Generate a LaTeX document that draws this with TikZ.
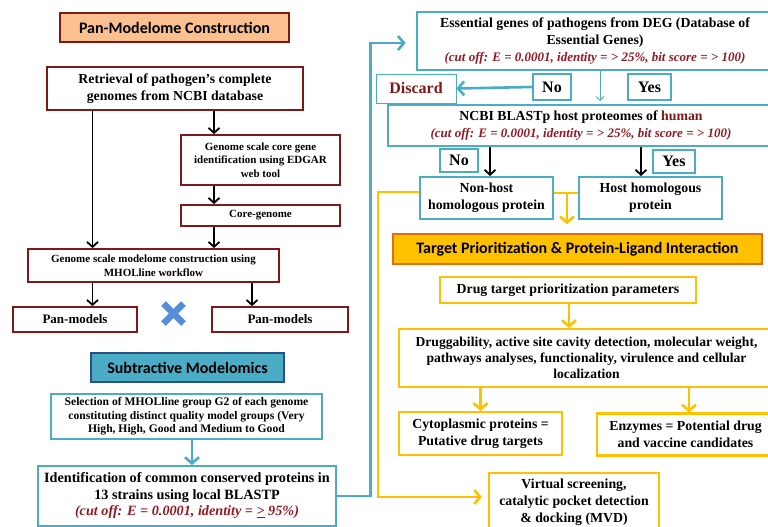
\documentclass[tikz,border=0pt]{standalone}
\usepackage{fontspec}
\setmainfont{Liberation Serif}
\newfontfamily\headfont{Carlito}
\usepackage{tikz}
\usetikzlibrary{shapes, arrows.meta, positioning}

\definecolor{darkred}{RGB}{128,24,24}
\definecolor{cutred}{RGB}{150,24,36}
\definecolor{aqua}{RGB}{75,172,198}
\definecolor{navyline}{RGB}{40,82,128}
\definecolor{peach}{RGB}{250,192,144}
\definecolor{gold}{RGB}{255,192,0}
\definecolor{goldedge}{RGB}{228,108,10}
\definecolor{crossblue}{RGB}{88,142,215}

\newcommand{\cutoff}[1]{{\color{cutred}\itshape #1}}

\begin{document}
\begin{tikzpicture}[x=1pt, y=-1pt,
    header/.style={rectangle, line width=1.6pt, align=center, inner sep=0pt, font=\headfont\bfseries\fontsize{16}{19}\selectfont},
    redbox/.style={rectangle, draw=darkred, line width=1.8pt, fill=white, align=center, inner sep=0pt},
    bluebox/.style={rectangle, draw=aqua, line width=2pt, fill=white, align=center, inner sep=0pt},
    goldbox/.style={rectangle, draw=gold, line width=2.2pt, fill=white, align=center, inner sep=0pt},
    tagbox/.style={rectangle, draw=aqua, line width=2.4pt, fill=white, inner sep=0pt, font=\bfseries\fontsize{16}{18}\selectfont},
    bigtext/.style={font=\bfseries\fontsize{13.8}{16.8}\selectfont},
    smalltext/.style={font=\bfseries\fontsize{11}{13.5}\selectfont},
    blackline/.style={draw, line width=1.8pt, -{Straight Barb[length=5pt, width=11pt]}},
    blueline/.style={draw, aqua, line width=2.6pt, -{Straight Barb[length=6pt, width=14pt]}},
    thinblue/.style={draw, aqua, line width=1pt, -{Straight Barb[length=4pt, width=8pt]}},
    goldline/.style={draw, gold, line width=2.6pt, -{Straight Barb[length=6pt, width=14pt]}},
    goldplain/.style={draw, gold, line width=2.6pt}
]
\useasboundingbox (0,0) rectangle (768,527);

% ─── Pan-Modelome Construction (left, top) ───────────────────────────
\node[header, draw=darkred, fill=peach, minimum width=229pt, minimum height=29pt] (panhead) at (174.5,27.5) {Pan-Modelome Construction};

\node[redbox, bigtext, minimum width=256pt, minimum height=43pt] (retrieval) at (175,88.5) {Retrieval of pathogen's complete\\genomes from NCBI database};
\node[redbox, smalltext, minimum width=159pt, minimum height=50pt] (coregene) at (260.5,160) {Genome  scale core gene\\identification  using EDGAR\\web  tool};
\node[redbox, smalltext, minimum width=159pt, minimum height=21pt] (coregenome) at (260.5,215.5) {Core-genome};
\node[redbox, smalltext, minimum width=251pt, minimum height=33pt] (modelome) at (153.5,265.5) {Genome scale modelome construction using\\MHOLline workflow};
\node[redbox, font=\bfseries\fontsize{13}{16}\selectfont, minimum width=124pt, minimum height=25pt] (panmodA) at (75,319.5) {Pan-models};
\node[redbox, font=\bfseries\fontsize{13}{16}\selectfont, minimum width=136pt, minimum height=25pt] (panmodB) at (280,319.5) {Pan-models};

\coordinate (trunkA) at (92.5,0);
\coordinate (trunkB) at (214,0);
\coordinate (trunkC) at (252,0);

\draw[blackline] (trunkB |- retrieval.south) -- (trunkB |- coregene.north);
\draw[blackline] (trunkB |- coregene.south) -- (trunkB |- coregenome.north);
\draw[blackline] (trunkB |- coregenome.south) -- (trunkB |- modelome.north);
\draw[blackline] (trunkA |- retrieval.south) -- (trunkA |- modelome.north);
\draw[blackline] (trunkA |- modelome.south) -- (trunkA |- panmodA.north);
\draw[blackline] (trunkC |- modelome.south) -- (trunkC |- panmodB.north);

% blue cross between the two pan-models
\coordinate (cross) at (173.5,313.5);
\draw[crossblue, line width=6.5pt] ([shift={(-10,-10)}]cross) -- ([shift={(10,10)}]cross);
\draw[crossblue, line width=6.5pt] ([shift={(-10,10)}]cross) -- ([shift={(10,-10)}]cross);

% ─── Subtractive Modelomics (left, bottom) ───────────────────────────
\node[header, draw=navyline, fill=aqua, minimum width=193pt, minimum height=29pt] (subhead) at (187.5,367.5) {Subtractive Modelomics};

\node[bluebox, font=\bfseries\fontsize{11.6}{13.6}\selectfont, minimum width=271pt, minimum height=45pt] (selection) at (186.5,416.5) {Selection of MHOLline  group G2 of each  genome\\constituting distinct quality model  groups (Very\\High, High, Good  and Medium  to Good};
\node[bluebox, font=\bfseries\fontsize{14.2}{16.5}\selectfont, minimum width=298pt, minimum height=60pt] (ident) at (187,496) {Identification  of common  conserved proteins in\\13 strains using local  BLASTP\\\cutoff{(cut off: E = 0.0001, identity = \underline{>} 95\%)}};

\coordinate (selarrow) at (192,0);
\draw[blueline] (selarrow |- selection.south) -- (selarrow |- ident.north);

% ─── DEG and host BLAST (right, top) ─────────────────────────────────
\node[bluebox, bigtext, line width=2.6pt, minimum width=356pt, minimum height=58pt] (essential) at (595,41) {Essential genes of pathogens from  DEG (Database of\\Essential Genes)\\\cutoff{\fontsize{13}{16.8}\selectfont(cut off: E = 0.0001, identity = > 25\%, bit score = > 100)}};

\node[rectangle, draw=aqua, line width=0.8pt, fill=white, inner sep=0pt, minimum width=80pt, minimum height=29pt, text=darkred, font=\bfseries\fontsize{16}{18}\selectfont] (discard) at (416,88.5) {Discard};
\node[tagbox, minimum width=38pt, minimum height=26pt] (no1) at (552,87) {No};
\node[tagbox, minimum width=43pt, minimum height=26pt] (yes1) at (649.5,87) {Yes};

\node[bluebox, bigtext, minimum width=386pt, minimum height=41pt] (ncbi) at (581,125.5) {NCBI BLASTp  host proteomes of {\color{darkred}human}\\\cutoff{\fontsize{13}{16.8}\selectfont(cut off: E = 0.0001, identity = > 25\%, bit score = > 100)}};

\node[tagbox, minimum width=38pt, minimum height=23pt] (no2) at (459,160.5) {No};
\node[tagbox, minimum width=42pt, minimum height=23pt] (yes2) at (674,161.5) {Yes};

\node[bluebox, bigtext, minimum width=133pt, minimum height=42pt] (nonhost) at (486.5,198) {Non-host\\homologous  protein};
\node[bluebox, bigtext, minimum width=143pt, minimum height=42pt] (host) at (650.5,198) {Host homologous\\protein};

\draw[blueline] (no1.west) -- (discard.east);
\draw[thinblue] ([xshift=5pt]essential.south) -- ([xshift=5pt]essential.south |- no1.south);
\draw[blackline] ([xshift=3.5pt]nonhost.north |- ncbi.south) -- ([xshift=3.5pt]nonhost.north);
\draw[blackline] ([xshift=-9.5pt]host.north |- ncbi.south) -- ([xshift=-9.5pt]host.north);

% long blue return from the subtractive part up to DEG
\coordinate (bluebus) at (370.5,0);
\draw[blueline, shorten >=10pt] (ident.east) -- (ident.east -| bluebus) |- ([yshift=-2pt]essential.west);

% ─── Target Prioritization & Protein-Ligand Interaction ──────────────
\node[header, draw=goldedge, fill=gold, minimum width=369pt, minimum height=30pt] (targethead) at (577.5,249) {Target Prioritization \& Protein-Ligand Interaction};

\node[goldbox, bigtext, minimum width=256pt, minimum height=26pt] (params) at (568,290) {Drug target prioritization  parameters};
\node[goldbox, font=\bfseries\fontsize{13.6}{16}\selectfont, minimum width=375pt, minimum height=58pt] (drugg) at (586.5,358) {Druggability,  active site cavity detection, molecular  weight,\\pathways  analyses, functionality,  virulence  and  cellular\\localization};
\node[goldbox, bigtext, minimum width=163pt, minimum height=43pt] (cyto) at (480.5,433.5) {Cytoplasmic  proteins =\\Putative drug  targets};
\node[goldbox, bigtext, minimum width=177pt, minimum height=42pt] (enzymes) at (685.5,434.5) {Enzymes = Potential  drug\\and  vaccine candidates};
\node[goldbox, bigtext, minimum width=170pt, minimum height=58pt] (virtual) at (574,502) {Virtual  screening,\\catalytic pocket detection\\\& docking  (MVD)};

\coordinate (goldbus) at (378,0);
\coordinate (hostjoin) at (567,0);
\draw[goldplain] ([yshift=5pt]nonhost.east) -- ([yshift=5pt]host.west);
\draw[goldline, shorten >=9pt] (hostjoin |- host.west) ++(0,-5) -- (hostjoin |- targethead.north);
\draw[goldline, shorten >=6pt] ([yshift=6pt]nonhost.west) -- ([yshift=6pt]nonhost.west -| goldbus) |- ([yshift=5pt]virtual.west);
\draw[goldline] ([xshift=1pt]params.south) -- ([xshift=1pt]params.south |- drugg.north);
\draw[goldline] (drugg.south -| cyto) -- (cyto.north);
\draw[goldline] ([xshift=3.5pt]drugg.south -| enzymes) -- ([xshift=3.5pt]enzymes.north);

\end{tikzpicture}
\end{document}
